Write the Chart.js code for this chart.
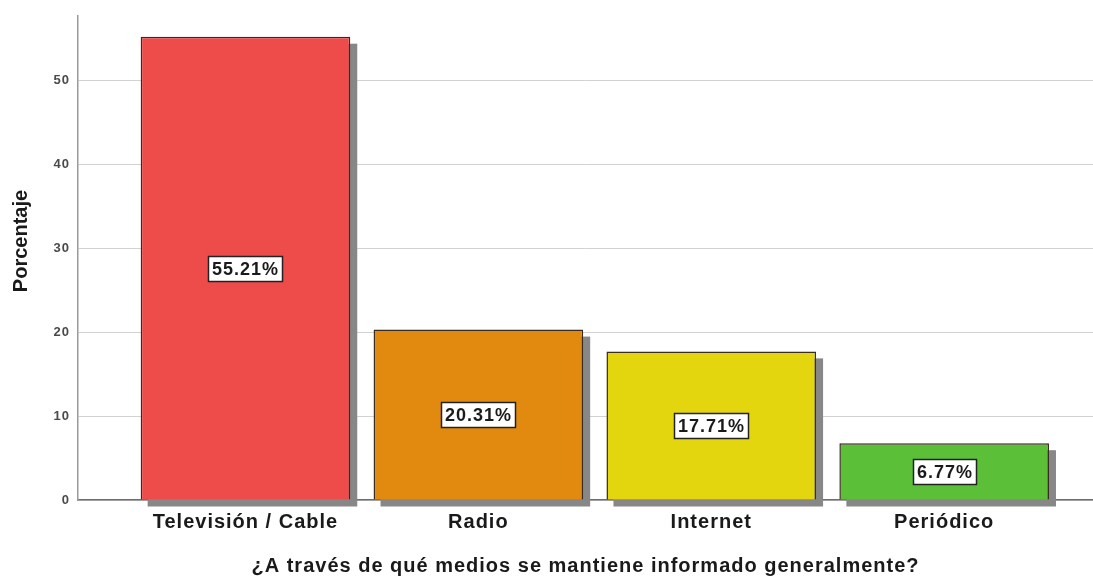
<!DOCTYPE html>
<html>
<head>
<meta charset="utf-8">
<script src="https://cdn.jsdelivr.net/npm/chart.js@4"></script>
<style>
  html, body { margin: 0; padding: 0; background: #ffffff; }
  #wrap { width: 1093px; height: 578px; position: relative; }
</style>
</head>
<body>
<div id="wrap"><canvas id="chart"></canvas></div>
<script>
// Media used to stay informed, share of respondents (%)
const categories = ['Televisión / Cable', 'Radio', 'Internet', 'Periódico'];
const positions = [1, 2, 3, 4];
const percentages = [55.21, 20.31, 17.71, 6.77];
const barColors = ['#ee4b4b', '#e2890f', '#e3d60f', '#5cbf38'];
const yTicks = [0, 10, 20, 30, 40, 50];

const FONT = '"Liberation Sans", Arial, sans-serif';
const SPACING = '1px';

// Slightly wide lettering for all chart text
const spacingPlugin = {
  id: 'letterSpacing',
  beforeDraw(chart) { chart.ctx.letterSpacing = SPACING; },
  afterDraw(chart) { chart.ctx.letterSpacing = '0px'; }
};

// Grey drop shadow behind each bar, offset down and right
const shadowPlugin = {
  id: 'barShadow',
  beforeDatasetsDraw(chart) {
    const ctx = chart.ctx;
    const meta = chart.getDatasetMeta(0);
    ctx.save();
    ctx.fillStyle = '#878787';
    meta.data.forEach(bar => {
      const p = bar.getProps(['x', 'y', 'base', 'width'], true);
      ctx.fillRect(p.x - p.width / 2 + 7, p.y + 7, p.width, p.base - p.y);
    });
    ctx.restore();
  }
};

// Boxed percentage label in the middle of each bar
const valueLabelPlugin = {
  id: 'valueLabels',
  afterDatasetsDraw(chart) {
    const ctx = chart.ctx;
    const meta = chart.getDatasetMeta(0);
    ctx.save();
    ctx.letterSpacing = SPACING;
    ctx.font = 'bold 18px ' + FONT;
    ctx.textAlign = 'left';
    ctx.textBaseline = 'middle';
    meta.data.forEach((bar, i) => {
      const p = bar.getProps(['x', 'y', 'base'], true);
      const text = percentages[i].toFixed(2) + '%';
      const tw = ctx.measureText(text).width;
      const w = Math.round(tw + 7);
      const h = 25;
      const cx = p.x;
      const cy = Math.max((p.y + p.base) / 2, p.y + 17);
      const left = Math.round(cx - w / 2);
      const top = Math.round(cy - h / 2);
      ctx.fillStyle = '#ffffff';
      ctx.fillRect(left, top, w, h);
      ctx.strokeStyle = '#222222';
      ctx.lineWidth = 1.5;
      ctx.strokeRect(left + 0.5, top + 0.5, w, h);
      ctx.fillStyle = '#1a1a1a';
      ctx.fillText(text, left + 4, top + h / 2 + 1.5);
    });
    ctx.restore();
  }
};

// Rotated y-axis title
const yTitlePlugin = {
  id: 'yTitle',
  afterDraw(chart) {
    const ctx = chart.ctx;
    ctx.save();
    ctx.letterSpacing = '0px';
    ctx.translate(21, 241);
    ctx.rotate(-Math.PI / 2);
    ctx.font = 'bold 20px ' + FONT;
    ctx.fillStyle = '#1a1a1a';
    ctx.textAlign = 'center';
    ctx.textBaseline = 'middle';
    ctx.fillText('Porcentaje', 0, 0);
    ctx.restore();
  }
};

new Chart(document.getElementById('chart'), {
  type: 'bar',
  data: {
    datasets: [{
      data: positions.map((x, i) => ({ x: x, y: percentages[i] })),
      backgroundColor: barColors,
      borderColor: '#3a2a20',
      borderWidth: 1.5,
      barPercentage: 0.9,
      categoryPercentage: 1.0
    }]
  },
  options: {
    responsive: true,
    maintainAspectRatio: false,
    animation: false,
    devicePixelRatio: 1,
    layout: { padding: { top: 15, right: 0, bottom: 0, left: 0 } },
    plugins: {
      legend: { display: false },
      tooltip: { enabled: false }
    },
    scales: {
      x: {
        type: 'linear',
        offset: false,
        min: 0.281,
        max: 4.639,
        afterBuildTicks(scale) {
          scale.ticks = positions.map(v => ({ value: v }));
        },
        afterFit(scale) { scale.height = 78; },
        grid: { display: false, drawTicks: false, offset: false },
        border: { display: true, color: '#6e6e6e', width: 1.5 },
        ticks: {
          autoSkip: false,
          maxRotation: 0,
          padding: 10,
          color: '#1a1a1a',
          font: { family: FONT, size: 20, weight: 'bold' },
          callback: (v) => categories[positions.indexOf(v)] || ''
        },
        title: {
          display: true,
          text: '¿A través de qué medios se mantiene informado generalmente?',
          color: '#1a1a1a',
          font: { family: FONT, size: 20, weight: 'bold' },
          padding: { top: 0, bottom: 0 }
        }
      },
      y: {
        min: 0,
        max: 57.7,
        afterBuildTicks(scale) {
          scale.ticks = yTicks.map(v => ({ value: v }));
        },
        afterFit(scale) { scale.width = 78; },
        grid: { color: '#d2d2d2', lineWidth: 1, drawTicks: false },
        border: { display: true, color: '#9a9a9a', width: 1.5 },
        ticks: {
          padding: 8,
          color: '#4a4a4a',
          font: { family: FONT, size: 13, weight: 'bold' }
        }
      }
    }
  },
  plugins: [spacingPlugin, shadowPlugin, valueLabelPlugin, yTitlePlugin]
});
</script>
</body>
</html>
